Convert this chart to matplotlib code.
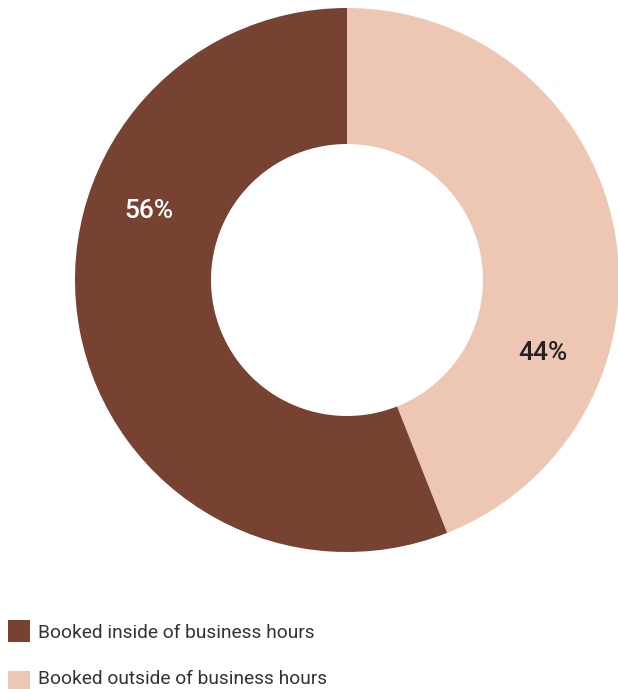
import matplotlib
matplotlib.use("Agg")
import matplotlib.pyplot as plt
from matplotlib.patches import Rectangle

categories = ["Booked outside of business hours", "Booked inside of business hours"]
values = [44, 56]
colors = ["#EDC6B4", "#774232"]
label_colors = ["#222222", "#FFFFFF"]
legend_order = [1, 0]

plt.rcParams['font.family'] = ['Roboto', 'DejaVu Sans']

fig = plt.figure(figsize=(6.18, 6.89), dpi=100)
ax = fig.add_axes([75/618, (689-552)/689, 544/618, 544/689])
wedges, _ = ax.pie(values, colors=colors, startangle=90, counterclock=False,
                   radius=1.0, wedgeprops=dict(width=0.5, edgecolor='none', linewidth=0))
ax.set_xlim(-1, 1)
ax.set_ylim(-1, 1)
ax.set_aspect('equal')
ax.axis('off')

# percentage labels
label_pos = [(0.72, -0.27), (-0.73, 0.255)]
for v, (x, y), c in zip(values, label_pos, label_colors):
    ax.text(x, y, f"{v}%", color=c, fontsize=19, ha='center', va='center',
            fontweight='medium')

# legend
W, H = 618, 689
for i, idx in enumerate(legend_order):
    y_top = 620 + i * 51
    baseline = 638 + i * 46
    fig.add_artist(Rectangle((8/W, 1 - (y_top + 22)/H), 22/W, 22/H,
                             transform=fig.transFigure, facecolor=colors[idx], edgecolor='none'))
    fig.text(38/W, 1 - baseline/H, categories[idx], fontsize=13.8, color="#333333",
             ha='left', va='baseline')

fig.savefig("out.png", dpi=100)
